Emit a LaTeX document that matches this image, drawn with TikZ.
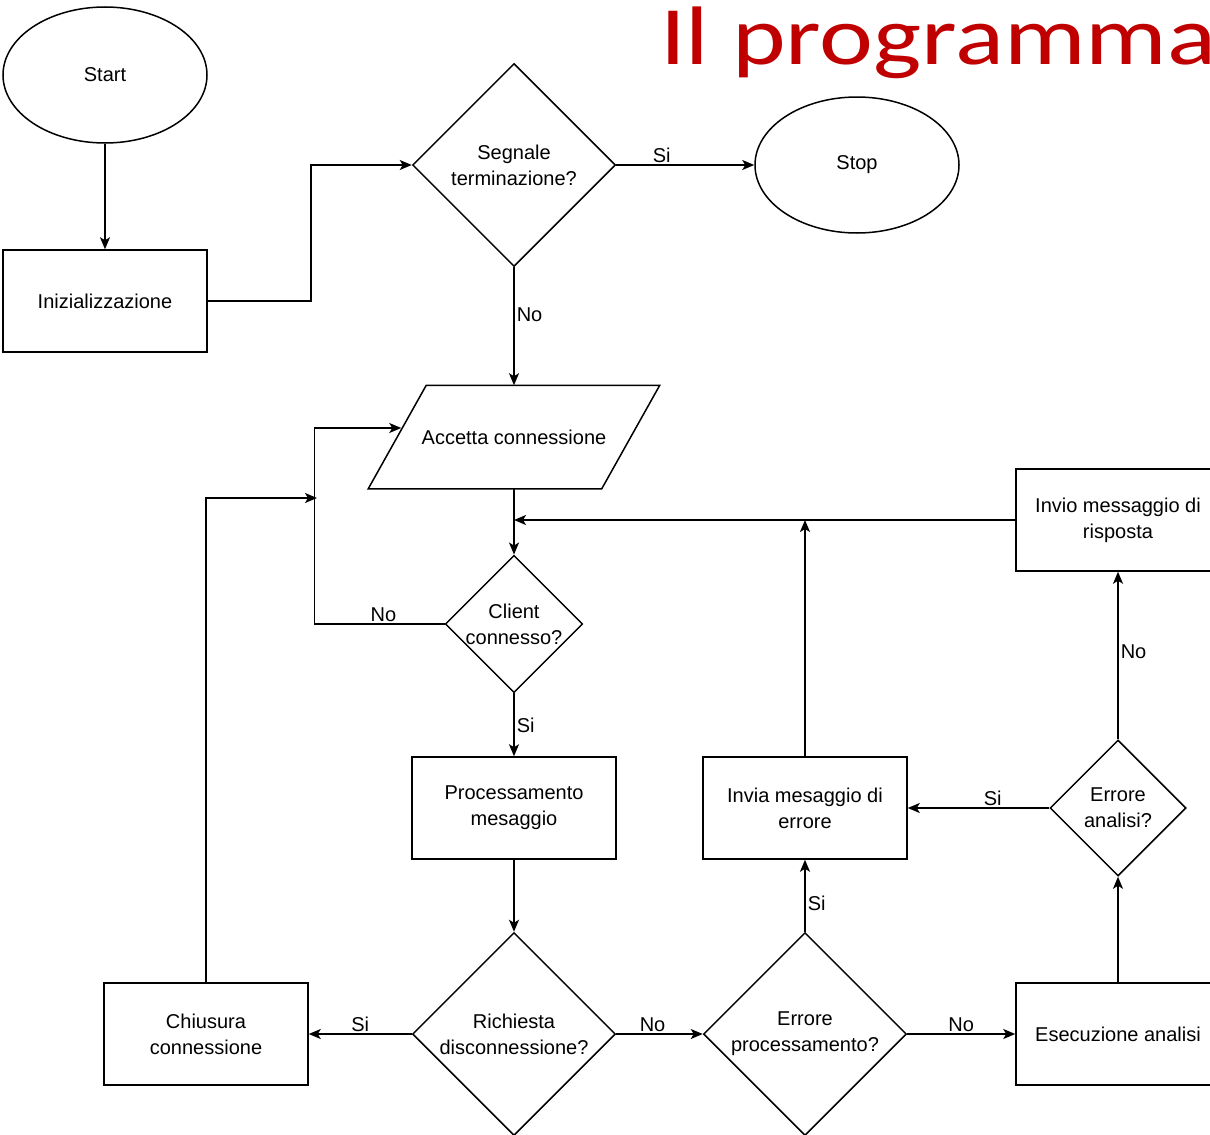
\documentclass[tikz,border=0pt]{standalone}
\usepackage{fontspec}
\setmainfont{Liberation Sans}
\newfontfamily\titlefont[FakeStretch=1.23]{Carlito}
\usepackage{xcolor}
\usetikzlibrary{shapes.geometric,arrows.meta,positioning}
\definecolor{titlered}{HTML}{C00000}

\begin{document}
\begin{tikzpicture}[x=1pt, y=-1pt,
  base/.style={draw, line width=1.5pt, align=center, inner sep=2pt,
               font=\fontsize{20}{26}\selectfont},
  term/.style={base, ellipse, minimum width=204pt, minimum height=136pt},
  proc/.style={base, rectangle, minimum width=204pt, minimum height=102pt},
  dec/.style={base, diamond, aspect=1, inner sep=0pt},
  io/.style={base, draw=none, rectangle, minimum width=232pt, minimum height=102pt},
  arr/.style={-{Stealth[length=12pt, width=10pt, inset=3pt]}, line width=1.5pt},
  lbl/.style={font=\fontsize{20}{26}\selectfont, inner sep=2pt}
]
  \useasboundingbox (0,0) rectangle (1210,1135);
  \clip (0,0) rectangle (1210,1135);

  % title
  \node[font=\titlefont\fontsize{83}{90}\selectfont, text=titlered,
        anchor=base west, inner sep=0pt] (title) at (660,64) {Il programma};

  % nodes
  \node[term] (start) at (105,75)  {Start};
  \node[proc] (init)  at (105,301) {Inizializzazione};
  \node[dec, minimum size=203pt] (seg) at (514,165) {Segnale\\terminazione?};
  \node[term] (stop)  at (857,165) {Stop};
  \node[io]   (acc)   at (514,437) {Accetta connessione};
  \draw[line width=1.5pt] ([xshift=29pt]acc.north west) -- ([xshift=29pt]acc.north east)
    -- ([xshift=-29pt]acc.south east) -- ([xshift=-29pt]acc.south west) -- cycle;
  \node[dec, minimum size=135pt] (cli) at (514,624) {Client\\connesso?};
  \node[proc] (proc)  at (514,808) {Processamento\\mesaggio};
  \node[dec, minimum size=203pt] (rich) at (514,1034) {Richiesta\\disconnessione?};
  \node[proc] (chi)   at (206,1034) {Chiusura\\connessione};
  \node[dec, minimum size=203pt] (errp) at (805,1034) {Errore\\processamento?};
  \node[proc] (err)   at (805,808) {Invia mesaggio di\\errore};
  \node[proc] (esec)  at (1118,1034) {Esecuzione analisi};
  \node[dec, minimum size=136pt] (erra) at (1118,808) {Errore\\analisi?};
  \node[proc] (risp)  at (1118,520) {Invio messaggio di\\risposta};

  \coordinate (join) at (317,498);

  % connectors
  \draw[arr] (start) -- (init);
  \draw[arr] (init.east) -- ++(103,0) |- (seg.west);
  \draw[arr] (seg.east) -- node[lbl, above, pos=0.33]{Si} (stop.west);
  \draw[arr] (seg.south) -- node[lbl, right, pos=0.4]{No} (acc.north);
  \draw[arr] (acc.south) -- (cli.north);
  \draw[arr] (cli.west) -- node[lbl, above, pos=0.47]{No} ++(-130,0)
             |- ([shift={(4,-9)}]acc.west);
  \draw[arr] (chi.north) |- (join);
  \draw[arr] (cli.south) -- node[lbl, right]{Si} (proc.north);
  \draw[arr] (proc) -- (rich);
  \draw[arr] (rich.west) -- node[lbl, above]{Si} (chi.east);
  \draw[arr] (rich.east) -- node[lbl, above, pos=0.42]{No} (errp.west);
  \draw[arr] (errp.north) -- node[lbl, right, pos=0.4]{Si} (err.south);
  \draw[arr] (errp.east) -- node[lbl, above]{No} (esec.west);
  \draw[arr] (esec) -- (erra);
  \draw[arr] (erra.west) -- node[lbl, above, pos=0.4]{Si} (err.east);
  \draw[arr] (erra.north) -- node[lbl, right, pos=0.52]{No} (risp.south);
  \draw[arr] (risp.west) -- (risp.west -| acc.south);
  \draw[arr] (err.north) -- (err.north |- risp.west);
\end{tikzpicture}
\end{document}
